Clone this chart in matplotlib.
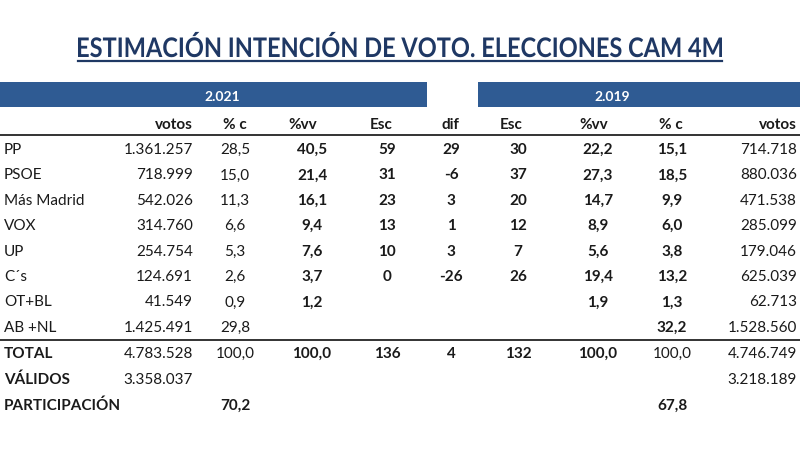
import matplotlib
matplotlib.use("Agg")
import matplotlib.pyplot as plt
from matplotlib.patches import Rectangle, PathPatch
from matplotlib.textpath import TextPath
from matplotlib.font_manager import FontProperties
from matplotlib.transforms import Affine2D

parties = ["PP", "PSOE", "Más Madrid", "VOX", "UP", "C´s", "OT+BL", "AB +NL"]
votos21 = [1361257, 718999, 542026, 314760, 254754, 124691, 41549, 1425491]
pc21 = [28.5, 15.0, 11.3, 6.6, 5.3, 2.6, 0.9, 29.8]
vv21 = [40.5, 21.4, 16.1, 9.4, 7.6, 3.7, 1.2, None]
esc21 = [59, 31, 23, 13, 10, 0, None, None]
dif = [29, -6, 3, 1, 3, -26, None, None]
esc19 = [30, 37, 20, 12, 7, 26, None, None]
vv19 = [22.2, 27.3, 14.7, 8.9, 5.6, 19.4, 1.9, None]
pc19 = [15.1, 18.5, 9.9, 6.0, 3.8, 13.2, 1.3, 32.2]
votos19 = [714718, 880036, 471538, 285099, 179046, 625039, 62713, 1528560]

total21 = [4783528, 100.0, 100.0, 136]
total_dif = 4
total19 = [132, 100.0, 100.0, 4746749]
validos = [3358037, 3218189]
participacion = [70.2, 67.8]

title = "ESTIMACIÓN INTENCIÓN DE VOTO. ELECCIONES CAM 4M"
col_heads = ["votos", "% c", "%vv", "Esc", "dif", "Esc", "%vv", "% c", "votos"]


def fint(v):
    if v is None:
        return ""
    s = f"{abs(v):,}".replace(",", ".")
    return ("-" if v < 0 else "") + s


def fdec(v):
    if v is None:
        return ""
    return f"{v:.1f}".replace(".", ",")


NAVY = "#1F3864"
BAR = "#2F5B93"
TXT = "#1a1a1a"
FONT = ["Lato", "DejaVu Sans"]
FS = 11

fig = plt.figure(figsize=(8, 4.5), dpi=100)
ax = fig.add_axes([0, 0, 1, 1])
ax.set_xlim(0, 800)
ax.set_ylim(450, 0)
ax.axis("off")

# title: narrow bold font is not available, so squeeze a text path
tprop = FontProperties(family="Lato", weight="bold")
tpath = TextPath((0, 0), title, size=100, prop=tprop)
cap = TextPath((0, 0), "E", size=100, prop=tprop).get_extents()
ext = tpath.get_extents()
sx = (722 - 78) / ext.width
sy = 19.5 / cap.height
tr = Affine2D().translate(-ext.x0, 0).scale(sx, -sy).translate(78, 57)
ax.add_patch(PathPatch(tr.transform_path(tpath), color=NAVY, lw=0))
ax.plot([78, 722], [61, 61], color=NAVY, lw=1.6)

# year bars
ax.add_patch(Rectangle((0, 82), 427, 25, color=BAR, lw=0))
ax.add_patch(Rectangle((478, 82), 322, 25, color=BAR, lw=0))
ax.text(222, 97, "2.021", ha="center", va="center", color="white",
        fontsize=FS - 1, fontweight="bold", family=FONT)
ax.text(612, 97, "2.019", ha="center", va="center", color="white",
        fontsize=FS - 1, fontweight="bold", family=FONT)

# column header positions: (x, ha)
head_x = [(193, "right"), (235, "center"), (303, "center"), (381, "center"),
          (450, "center"), (511, "center"), (594, "center"), (671, "center"),
          (797, "right")]
val_x = [(193, "right"), (235, "center"), (312, "center"), (387, "center"),
         (451, "center"), (518, "center"), (598, "center"), (672, "center"),
         (797, "right")]
bold_cols = [False, False, True, True, True, True, True, True, False]

for (x, ha), h in zip(head_x, col_heads):
    ax.text(x, 125, h, ha=ha, va="center", fontsize=FS, fontweight="bold",
            color=TXT, family=FONT)

ax.plot([0, 800], [135, 135], color="#333333", lw=1.4)
ax.plot([0, 800], [340, 340], color="#333333", lw=1.4)

row_y0, row_dy = 150, 25.4
for i, p in enumerate(parties):
    y = row_y0 + i * row_dy
    ax.text(4, y, p, ha="left", va="center", fontsize=FS, color=TXT, family=FONT)
    vals = [fint(votos21[i]), fdec(pc21[i]), fdec(vv21[i]), fint(esc21[i]),
            fint(dif[i]), fint(esc19[i]), fdec(vv19[i]), fdec(pc19[i]),
            fint(votos19[i])]
    for (x, ha), v, b in zip(val_x, vals, bold_cols):
        ax.text(x, y, v, ha=ha, va="center", fontsize=FS, color=TXT,
                fontweight="bold" if b else "normal", family=FONT)

# totals
y = 354
ax.text(4, y, "TOTAL", ha="left", va="center", fontsize=FS, fontweight="bold",
        color=TXT, family=FONT)
tot_vals = [fint(total21[0]), fdec(total21[1]), fdec(total21[2]), fint(total21[3]),
            fint(total_dif), fint(total19[0]), fdec(total19[1]), fdec(total19[2]),
            fint(total19[3])]
tot_bold = [False, False, True, True, True, True, True, False, False]
for (x, ha), v, b in zip(val_x, tot_vals, tot_bold):
    ax.text(x, y, v, ha=ha, va="center", fontsize=FS, color=TXT,
            fontweight="bold" if b else "normal", family=FONT)

y = 380
ax.text(4, y, "VÁLIDOS", ha="left", va="center", fontsize=FS, fontweight="bold",
        color=TXT, family=FONT)
ax.text(val_x[0][0], y, fint(validos[0]), ha="right", va="center", fontsize=FS,
        color=TXT, family=FONT)
ax.text(val_x[8][0], y, fint(validos[1]), ha="right", va="center", fontsize=FS,
        color=TXT, family=FONT)

y = 406
ax.text(4, y, "PARTICIPACIÓN", ha="left", va="center", fontsize=FS,
        fontweight="bold", color=TXT, family=FONT)
ax.text(val_x[1][0], y, fdec(participacion[0]), ha="center", va="center",
        fontsize=FS, fontweight="bold", color=TXT, family=FONT)
ax.text(val_x[7][0], y, fdec(participacion[1]), ha="center", va="center",
        fontsize=FS, fontweight="bold", color=TXT, family=FONT)

fig.savefig("out.png", dpi=100, facecolor="white")
